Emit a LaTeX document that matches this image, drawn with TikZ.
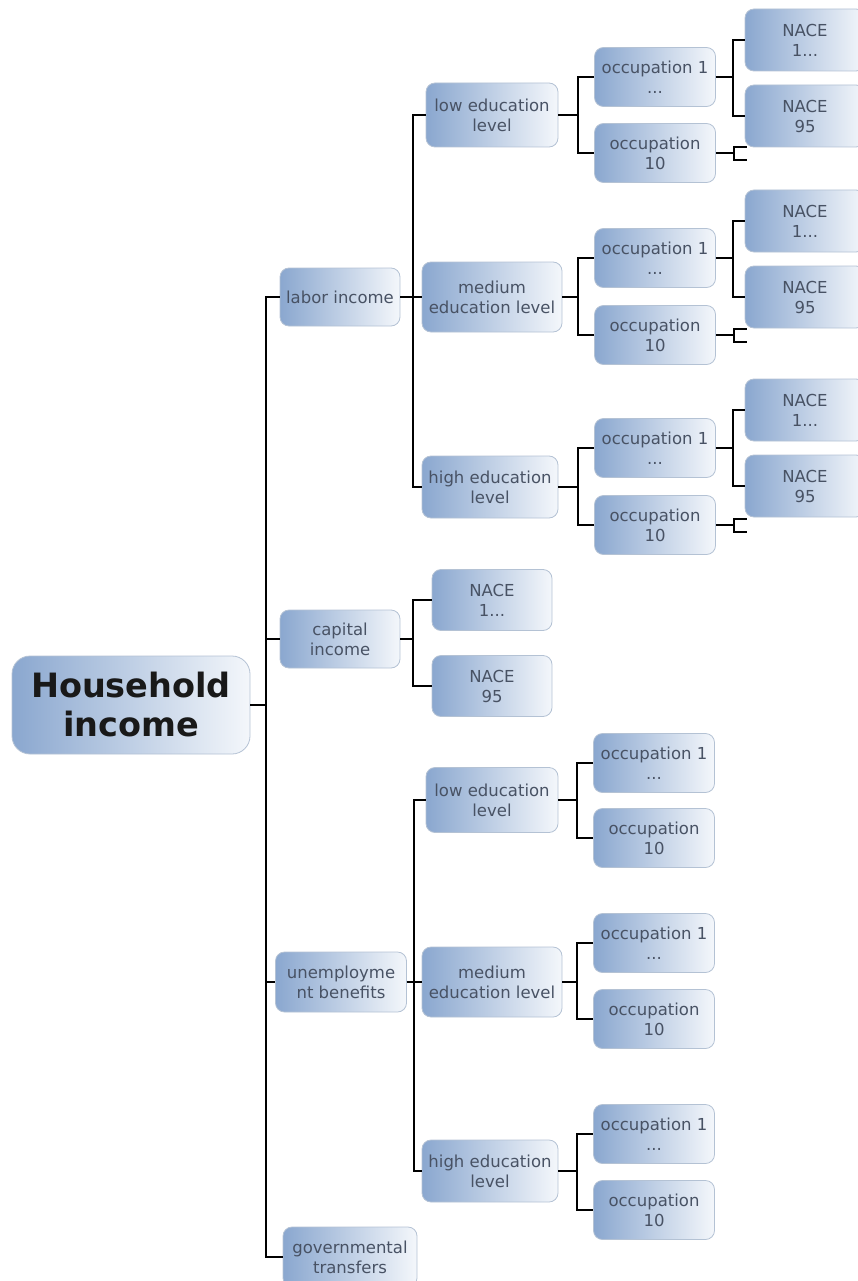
\documentclass[tikz,border=0pt]{standalone}
\usepackage{fontspec}
\setmainfont{DejaVu Sans}
\definecolor{boxL}{RGB}{138,167,207}
\definecolor{boxR}{RGB}{244,247,251}
\definecolor{boxB}{RGB}{180,194,212}
\definecolor{txt}{RGB}{72,82,100}
\tikzset{
  box/.style={draw=boxB, line width=0.8pt, rounded corners=9pt, left color=boxL, right color=boxR,
    align=center, text=txt, font=\fontsize{16.5}{20}\selectfont, inner sep=1pt},
  rootbox/.style={box, rounded corners=18pt, text=black!90, font=\fontsize{33.5}{39}\selectfont\bfseries,
    minimum width=238pt, minimum height=98pt},
  lvlbox/.style={box, minimum width=120pt, minimum height=58pt},
  edubox/.style={box, minimum width=134pt, minimum height=64pt},
  occbox/.style={box, minimum width=121pt, minimum height=59pt},
  nacebox/.style={box, minimum width=120pt, minimum height=62pt},
  conn/.style={draw=black, line width=2pt}
}
\begin{document}
\begin{tikzpicture}[x=1pt,y=-1pt]
\useasboundingbox (0,0) rectangle (858,1281);
% root and first level
\node[rootbox] (root) at (131,705) {Household\\income};
\node[lvlbox] (lab) at (340,297) {labor income};
\node[lvlbox] (cap) at (340,639) {capital\\income};
\node[lvlbox, minimum width=131pt, minimum height=60pt] (unemp) at (341,982) {unemployme\\nt benefits};
\node[lvlbox, minimum width=134pt, minimum height=60pt] (gov) at (350,1257) {governmental\\transfers};
\foreach \c in {lab,cap,unemp,gov}
  \draw[conn] (root.east) -- ++(16,0) |- (\c.west);
% labor income
\node[edubox, minimum width=132pt] (lowA) at (492,115) {low education\\level};
\node[edubox, minimum width=140pt, minimum height=70pt] (medA) at (492,297) {medium\\education level};
\node[edubox, minimum width=136pt, minimum height=62pt] (highA) at (490,487) {high education\\level};
\foreach \c in {lowA,medA,highA}
  \draw[conn] (lab.east) -- ++(13,0) |- (\c.west);
\node[occbox] (o1lowA) at (655,77) {occupation 1\\...};
\node[occbox] (o10lowA) at (655,153) {occupation\\10};
\node[occbox] (o1medA) at (655,258) {occupation 1\\...};
\node[occbox] (o10medA) at (655,335) {occupation\\10};
\node[occbox] (o1highA) at (655,448) {occupation 1\\...};
\node[occbox] (o10highA) at (655,525) {occupation\\10};
\foreach \e/\o in {lowA/o1lowA,lowA/o10lowA,medA/o1medA,medA/o10medA,highA/o1highA,highA/o10highA}
  \draw[conn] (\e.east) -| ([xshift=-16pt]\o.west) |- (\o.west);
\node[nacebox] (n1lowA) at (805,40) {NACE\\1...};
\node[nacebox] (n95lowA) at (805,116) {NACE\\95};
\node[nacebox] (n1medA) at (805,221) {NACE\\1...};
\node[nacebox] (n95medA) at (805,297) {NACE\\95};
\node[nacebox] (n1highA) at (805,410) {NACE\\1...};
\node[nacebox] (n95highA) at (805,486) {NACE\\95};
\foreach \o/\n in {o1lowA/n1lowA,o1lowA/n95lowA,o1medA/n1medA,o1medA/n95medA,o1highA/n1highA,o1highA/n95highA}
  \draw[conn] (\o.east) -- ++(17,0) |- (\n.west);
% collapsed branches
\foreach \o in {o10lowA,o10medA,o10highA}
  \draw[conn] (\o.east) -- ++(18,0) ++(13,-6) -- ++(-13,0) -- ++(0,13) -- ++(13,0);
% capital income
\node[nacebox, minimum height=61pt] (n1cap) at (492,600) {NACE\\1...};
\node[nacebox, minimum height=61pt] (n95cap) at (492,686) {NACE\\95};
\foreach \n in {n1cap,n95cap}
  \draw[conn] (cap.east) -- ++(13,0) |- (\n.west);
% unemployment benefits
\node[edubox, minimum width=132pt, minimum height=65pt] (lowB) at (492,800) {low education\\level};
\node[edubox, minimum width=140pt, minimum height=70pt] (medB) at (492,982) {medium\\education level};
\node[edubox, minimum width=136pt, minimum height=62pt] (highB) at (490,1171) {high education\\level};
\foreach \c in {lowB,medB,highB}
  \draw[conn] (unemp.east) -- ++(7,0) |- (\c.west);
\node[occbox] (o1lowB) at (654,763) {occupation 1\\...};
\node[occbox] (o10lowB) at (654,838) {occupation\\10};
\node[occbox] (o1medB) at (654,943) {occupation 1\\...};
\node[occbox] (o10medB) at (654,1019) {occupation\\10};
\node[occbox] (o1highB) at (654,1134) {occupation 1\\...};
\node[occbox] (o10highB) at (654,1210) {occupation\\10};
\foreach \e/\o in {lowB/o1lowB,lowB/o10lowB,medB/o1medB,medB/o10medB,highB/o1highB,highB/o10highB}
  \draw[conn] (\e.east) -| ([xshift=-16pt]\o.west) |- (\o.west);
\end{tikzpicture}
\end{document}
